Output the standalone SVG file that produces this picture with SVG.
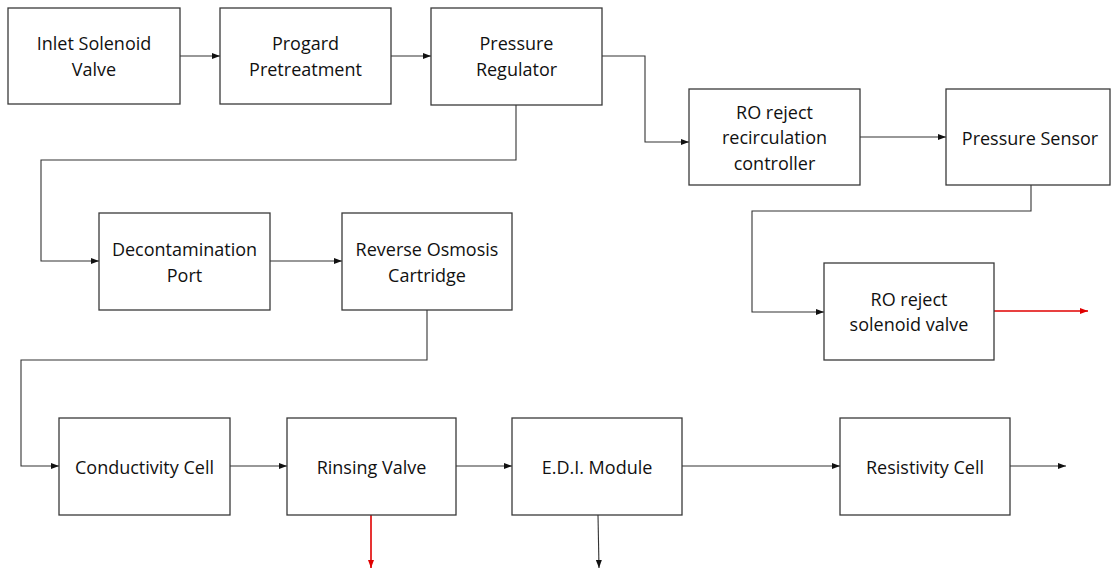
<svg xmlns="http://www.w3.org/2000/svg" width="1111" height="569" viewBox="0 0 1111 569">
<style>
.box{fill:#fff;stroke:#3a3a3a;stroke-width:1.3}
.lbl{font-family:"Open Sans","Liberation Sans",Arial,sans-serif;font-size:18px;fill:#111;text-anchor:middle}
.c{fill:none;stroke:#333;stroke-width:1.1}
.r{fill:none;stroke:#e00000;stroke-width:1.6}
</style>
<defs>
<marker id="ab" markerUnits="userSpaceOnUse" markerWidth="8" markerHeight="7" refX="8" refY="3.5" orient="auto"><path d="M0,0.5 L8,3.5 L0,6.5 z" fill="#111"/></marker>
<marker id="ar" markerUnits="userSpaceOnUse" markerWidth="8" markerHeight="7" refX="8" refY="3.5" orient="auto"><path d="M0,0.5 L8,3.5 L0,6.5 z" fill="#e00000"/></marker>
</defs>
<rect width="1111" height="569" fill="#fff"/>
<g id="connectors">
<path class="c" d="M180,56 H220" marker-end="url(#ab)"/>
<path class="c" d="M391,56 H431" marker-end="url(#ab)"/>
<path class="c" d="M602,56 H645 V142 H689" marker-end="url(#ab)"/>
<path class="c" d="M516,105 V160 H41 V261 H99" marker-end="url(#ab)"/>
<path class="c" d="M270,261 H342" marker-end="url(#ab)"/>
<path class="c" d="M860,137 H946" marker-end="url(#ab)"/>
<path class="c" d="M1031,185 V211 H752 V312 H824" marker-end="url(#ab)"/>
<path class="r" d="M994,311 H1088" marker-end="url(#ar)"/>
<path class="c" d="M427,310 V360 H21 V466 H59" marker-end="url(#ab)"/>
<path class="c" d="M230,466 H287" marker-end="url(#ab)"/>
<path class="r" d="M371,515 V568" marker-end="url(#ar)"/>
<path class="c" d="M456,466 H512" marker-end="url(#ab)"/>
<path class="c" d="M598,515 L599,568" marker-end="url(#ab)"/>
<path class="c" d="M682,466 H840" marker-end="url(#ab)"/>
<path class="c" d="M1010,466 H1066" marker-end="url(#ab)"/>
</g>
<g id="inlet"><rect class="box" x="8" y="8" width="172" height="96"/><text class="lbl" x="94" y="50">Inlet Solenoid</text><text class="lbl" x="94" y="76">Valve</text></g>
<g id="progard"><rect class="box" x="220" y="8" width="171" height="96"/><text class="lbl" x="305.5" y="50">Progard</text><text class="lbl" x="305.5" y="76">Pretreatment</text></g>
<g id="pressure-regulator"><rect class="box" x="431" y="8" width="171" height="97"/><text class="lbl" x="516.5" y="50">Pressure</text><text class="lbl" x="516.5" y="76">Regulator</text></g>
<g id="ro-recirc"><rect class="box" x="689" y="89" width="171" height="96"/><text class="lbl" x="774.5" y="119">RO reject</text><text class="lbl" x="774.5" y="144">recirculation</text><text class="lbl" x="774.5" y="170">controller</text></g>
<g id="pressure-sensor"><rect class="box" x="946" y="89" width="164" height="96"/><text class="lbl" x="1030" y="145">Pressure Sensor</text></g>
<g id="decontamination"><rect class="box" x="99" y="213" width="171" height="97"/><text class="lbl" x="184.5" y="256">Decontamination</text><text class="lbl" x="184.5" y="282">Port</text></g>
<g id="ro-cartridge"><rect class="box" x="342" y="213" width="170" height="97"/><text class="lbl" x="427" y="256">Reverse Osmosis</text><text class="lbl" x="427" y="282">Cartridge</text></g>
<g id="ro-solenoid"><rect class="box" x="824" y="263" width="170" height="97"/><text class="lbl" x="909" y="306">RO reject</text><text class="lbl" x="909" y="331">solenoid valve</text></g>
<g id="conductivity"><rect class="box" x="59" y="418" width="171" height="97"/><text class="lbl" x="144.5" y="474">Conductivity Cell</text></g>
<g id="rinsing"><rect class="box" x="287" y="418" width="169" height="97"/><text class="lbl" x="371.5" y="474">Rinsing Valve</text></g>
<g id="edi"><rect class="box" x="512" y="418" width="170" height="97"/><text class="lbl" x="597" y="474">E.D.I. Module</text></g>
<g id="resistivity"><rect class="box" x="840" y="418" width="170" height="97"/><text class="lbl" x="925" y="474">Resistivity Cell</text></g>
</svg>
